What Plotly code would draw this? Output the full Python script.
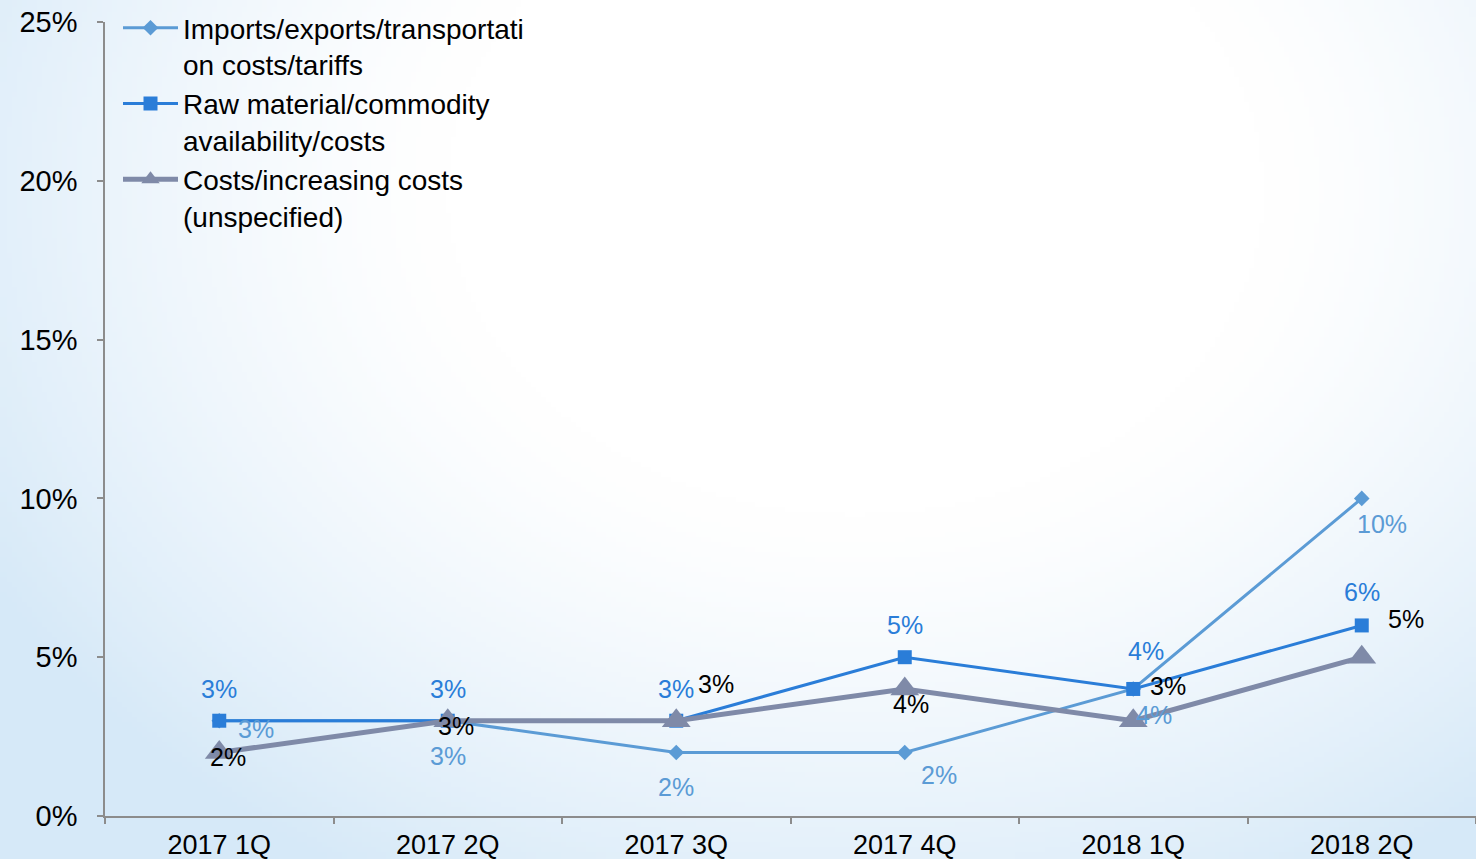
import base64
import struct
import zlib

import numpy as np
import plotly.graph_objects as go

# ---- data ----
quarters = ["2017 1Q", "2017 2Q", "2017 3Q", "2017 4Q", "2018 1Q", "2018 2Q"]
imports_costs = [3, 3, 2, 2, 4, 10]
raw_material = [3, 3, 3, 5, 4, 6]
costs_unspecified = [2, 3, 3, 4, 3, 5]

names = [
    "Imports/exports/transportati<br>on costs/tariffs",
    "Raw material/commodity<br>availability/costs",
    "Costs/increasing costs<br>(unspecified)",
]
y_ticks = [0, 5, 10, 15, 20, 25]

# ---- page geometry ----
W, H = 1476, 859
ML, MR, MT, MB = 105, 0, 22, 43
PW, PH = W - ML - MR, H - MT - MB

FONT = "Liberation Sans, Arial, sans-serif"
C_IMP = "#5b9bd5"
C_RAW = "#2a7dd8"
C_COST = "#7f8aa8"

LEGEND_SYMBOL_W = 55


def gradient_png(w, h):
    """Soft white-to-pale-blue backdrop encoded as a PNG data URI."""
    yy, xx = np.mgrid[0:h, 0:w]
    nx, ny = xx / (w - 1), yy / (h - 1)
    r = np.sqrt(((nx - 0.58) / 0.62) ** 2 + ((ny - 0.22) / 0.85) ** 2)
    t = np.clip((r - 0.45) / 0.65, 0, 1) ** 1.3
    c0 = np.array([255, 255, 255], float)
    c1 = np.array([214, 233, 248], float)
    img = (c0[None, None, :] * (1 - t[..., None]) + c1[None, None, :] * t[..., None]).astype(np.uint8)
    raw = b"".join(b"\x00" + img[i].tobytes() for i in range(h))

    def chunk(tag, data):
        return (struct.pack(">I", len(data)) + tag + data
                + struct.pack(">I", zlib.crc32(tag + data) & 0xFFFFFFFF))

    png = (b"\x89PNG\r\n\x1a\n"
           + chunk(b"IHDR", struct.pack(">IIBBBBB", w, h, 8, 2, 0, 0, 0))
           + chunk(b"IDAT", zlib.compress(raw, 9))
           + chunk(b"IEND", b""))
    return "data:image/png;base64," + base64.b64encode(png).decode()


fig = go.Figure()

fig.add_trace(go.Scatter(
    x=quarters, y=imports_costs, name=names[0], mode="lines+markers",
    line=dict(color=C_IMP, width=3),
    marker=dict(symbol="diamond", size=12, color=C_IMP),
))
fig.add_trace(go.Scatter(
    x=quarters, y=raw_material, name=names[1], mode="lines+markers",
    line=dict(color=C_RAW, width=3),
    marker=dict(symbol="square", size=14, color=C_RAW),
))
fig.add_trace(go.Scatter(
    x=quarters, y=costs_unspecified, name=names[2], mode="lines+markers",
    line=dict(color=C_COST, width=5),
    marker=dict(symbol="triangle-up", size=25, color=C_COST),
))

# value labels, offset from each marker in pixels
label_sets = [
    (imports_costs, C_IMP, [(37, -8), (0, -35), (0, -35), (34, -23), (21, -26), (20, -26)]),
    (raw_material, C_RAW, [(0, 32), (0, 32), (0, 32), (0, 32), (13, 38), (0, 33)]),
    (costs_unspecified, "#000000", [(9, -5), (8, -5), (40, 37), (6, -15), (35, 35), (44, 38)]),
]
for values, color, shifts in label_sets:
    for q, v, (dx, dy) in zip(quarters, values, shifts):
        fig.add_annotation(
            x=q, y=v, text=f"{v}%", showarrow=False,
            xshift=dx, yshift=dy,
            font=dict(family=FONT, size=25, color=color),
        )

fig.update_layout(
    width=W, height=H,
    margin=dict(l=ML, r=MR, t=MT, b=MB, pad=0),
    paper_bgcolor="white",
    plot_bgcolor="rgba(0,0,0,0)",
    font=dict(family=FONT, color="#000000"),
    showlegend=True,
    legend=dict(
        x=(183 - LEGEND_SYMBOL_W - 10 - ML) / PW, xanchor="left",
        y=1 + (MT - 3) / PH, yanchor="top",
        bgcolor="rgba(0,0,0,0)",
        font=dict(family=FONT, size=28, color="#000000"),
        valign="top", tracegroupgap=0,
        itemwidth=LEGEND_SYMBOL_W,
    ),
    images=[dict(
        source=gradient_png(296, 172),
        xref="paper", yref="paper",
        x=-ML / PW, y=1 + MT / PH,
        sizex=W / PW, sizey=H / PH,
        xanchor="left", yanchor="top",
        sizing="stretch", layer="below",
    )],
)

fig.update_xaxes(
    type="category", range=[-0.5, len(quarters) - 0.5],
    showgrid=False, zeroline=False,
    showline=True, linecolor="#8c8c8c", linewidth=1.5,
    ticks="outside", tickson="boundaries", ticklen=6, tickcolor="#8c8c8c", tickwidth=1.5,
    tickfont=dict(family=FONT, size=27, color="#000000"),
    ticklabelstandoff=4,
)
fig.update_yaxes(
    range=[0, 25], tickvals=y_ticks, ticktext=[f"{t}%" for t in y_ticks],
    showgrid=False, zeroline=False,
    showline=True, linecolor="#8c8c8c", linewidth=1.5,
    ticks="outside", ticklen=6, tickcolor="#8c8c8c", tickwidth=1.5,
    tickfont=dict(family=FONT, size=29, color="#000000"),
    ticklabelstandoff=14,
)

fig.write_html("out.html")
